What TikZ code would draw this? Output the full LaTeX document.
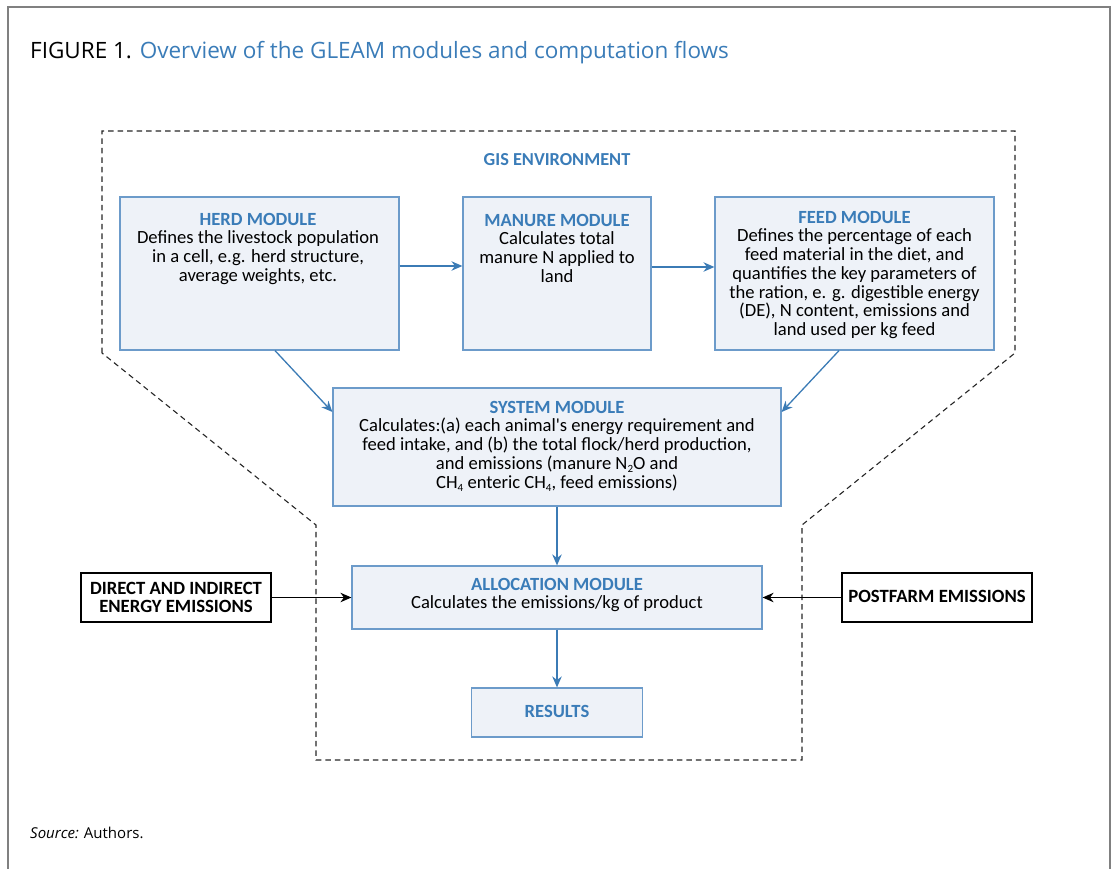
\documentclass[tikz,border=0pt]{standalone}
\usepackage{fontspec}
\setmainfont{Open Sans}
\newfontfamily\carl{Carlito}
\usetikzlibrary{arrows.meta}
\definecolor{hblue}{HTML}{3A7CB8}
\definecolor{bfill}{HTML}{EEF2F8}
\definecolor{bline}{HTML}{6C9BCA}
\definecolor{ablue}{HTML}{3B7BB5}
\definecolor{frame}{HTML}{808080}
\newcommand{\topst}{\rule{0pt}{15pt}}
\newcommand{\hd}[1]{\textbf{\color{hblue}#1}}
\newcommand{\sbs}[1]{\raisebox{-0.35ex}{\fontsize{11}{11}\selectfont #1}}
\tikzset{
  modbox/.style={draw=bline, fill=bfill, line width=1.2pt, inner sep=0pt},
  modtext/.style={anchor=north, inner sep=0pt, align=center, font=\carl\fontsize{18.6}{18.7}\selectfont},
  extbox/.style={draw=black, fill=white, line width=1.1pt, inner sep=0pt},
  exttext/.style={anchor=north, inner sep=0pt, align=center, font=\carl\bfseries\fontsize{18.7}{18.3}\selectfont},
  barr/.style={draw=ablue, line width=1.3pt, -{Stealth[length=11pt,width=9.5pt]}},
  karr/.style={draw=black, line width=1.1pt, -{Stealth[length=11pt,width=9.5pt]}},
  gisline/.style={draw=black!85, line width=1.1pt, dash pattern=on 5.5pt off 4pt},
}
\begin{document}
\begin{tikzpicture}[x=1pt,y=-1pt]
\useasboundingbox (0,0) rectangle (1111,869);
% outer frame
\draw[frame, line width=1.5pt] (8,869) -- (8,7) -- (1110,7) -- (1110,869);
% title
\node[anchor=base west, inner sep=0pt, font=\fontsize{22.5}{26}\selectfont] (title) at (30,59)
  {FIGURE 1. \textcolor{hblue}{Overview of the GLEAM modules and computation flows}};
\node[anchor=base west, inner sep=0pt, font=\fontsize{15}{18}\selectfont] (source) at (30,838)
  {\textit{Source:} Authors.};
% GIS environment dashed outline
\draw[gisline] (102,353) -- (102,131) -- (1015,131) -- (1015,353) -- (802,525) -- (802,760) -- (316,760) -- (316,525) -- cycle;
\node[anchor=base, inner sep=0pt, font=\carl\bfseries\fontsize{18.3}{20}\selectfont, text=hblue] (gis) at (557,166) {GIS ENVIRONMENT};
% boxes
\node[modbox, minimum width=279pt, minimum height=153pt] (herd) at (259.5,273.5) {};
\node[modbox, minimum width=188pt, minimum height=153pt] (manure) at (557,273.5) {};
\node[modbox, minimum width=279pt, minimum height=153pt] (feed) at (854.5,273.5) {};
\node[modbox, minimum width=448pt, minimum height=118pt] (system) at (557,447) {};
\node[modbox, minimum width=410pt, minimum height=63pt] (alloc) at (557,597.5) {};
\node[modbox, minimum width=171pt, minimum height=49pt] (results) at (557,712.5) {};
\node[extbox, minimum width=190pt, minimum height=49pt] (direct) at (176,597.5) {};
\node[extbox, minimum width=190pt, minimum height=49pt] (post) at (937,597.5) {};
% texts
\node[modtext] (herdt) at (258,210) {\topst\hd{HERD MODULE}\\Defines the livestock population\\in a cell, e.g. herd structure,\\average weights, etc.};
\node[modtext] (manuret) at (557,211) {\topst\hd{MANURE MODULE}\\Calculates total\\manure N applied to\\land};
\node[modtext] (feedt) at (854.5,208) {\topst\hd{FEED MODULE}\\Defines the percentage of each\\feed material in the diet, and\\quantifies the key parameters of\\the ration, e. g. digestible energy\\(DE), N content, emissions and\\land used per kg feed};
\node[modtext] (systemt) at (557,398) {\topst\hd{SYSTEM MODULE}\\Calculates:(a) each animal's energy requirement and\\feed intake, and (b) the total flock/herd production,\\and emissions (manure N\sbs{2}O and\\CH\sbs{4} enteric CH\sbs{4}, feed emissions)};
\node[modtext] (alloct) at (557,575) {\topst\hd{ALLOCATION MODULE}\\Calculates the emissions/kg of product};
\node[modtext] (resultst) at (557,702) {\topst\hd{RESULTS}};
\node[exttext] (directt) at (176,579) {\topst DIRECT AND INDIRECT\\ENERGY EMISSIONS};
\node[exttext] (postt) at (937,587) {\topst POSTFARM EMISSIONS};
% connectors
\draw[barr] (herd.east |- 0,266) -- (manure.west |- 0,266);
\draw[barr] (manure.east |- 0,267) -- (feed.west |- 0,267);
\draw[barr] (herd.south -| 275,0) -- (system.west |- 0,412);
\draw[barr] (feed.south -| 839,0) -- (system.east |- 0,412);
\draw[barr] (system.south) -- (alloc.north);
\draw[barr] (alloc.south) -- (results.north);
\draw[karr] (direct.east) -- (alloc.west);
\draw[karr] (post.west) -- (alloc.east);
\end{tikzpicture}
\end{document}
